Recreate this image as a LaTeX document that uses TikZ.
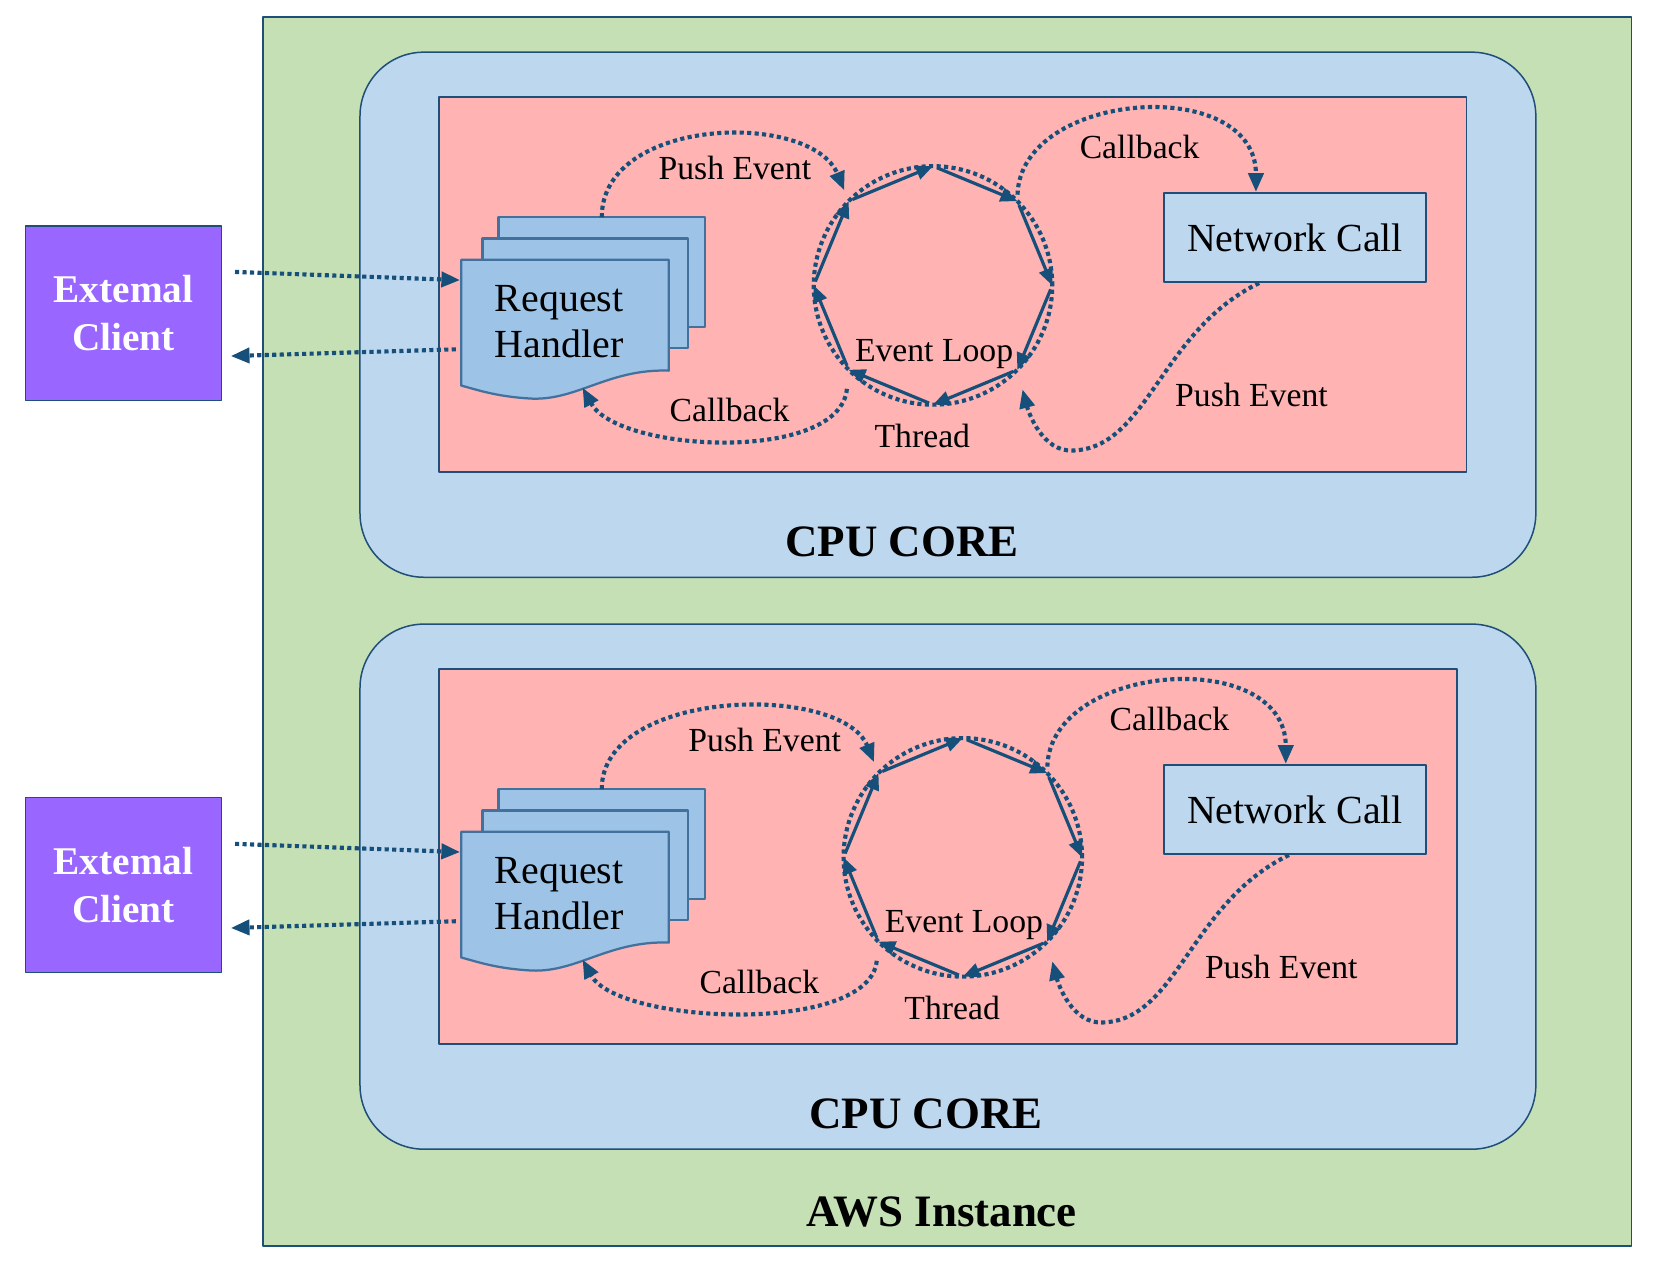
\documentclass[tikz,border=0pt]{standalone}
\usepackage{fontspec}
\setmainfont{Liberation Serif}
\usetikzlibrary{arrows.meta,calc}
\definecolor{awsgreen}{HTML}{C5E0B4}
\definecolor{coreblue}{HTML}{BDD7EE}
\definecolor{threadpink}{HTML}{FFB3B3}
\definecolor{clientviolet}{HTML}{9966FF}
\definecolor{pageblue}{HTML}{9DC3E6}
\definecolor{pageedge}{HTML}{41719C}
\definecolor{edgeblue}{HTML}{1F4E79}
\definecolor{flowblue}{HTML}{16507A}
\tikzset{
  boxline/.style={draw=edgeblue,line width=.8pt},
  pagebox/.style={draw=pageedge,line width=1.2pt,fill=pageblue},
  flowdots/.style={flowblue,line width=2.2pt,dash pattern=on 2.2pt off 1.8pt,-{Triangle[length=10pt,width=8pt]}},
  loopdots/.style={flowblue,line width=2.2pt,dash pattern=on 2.2pt off 1.8pt},
  loopstep/.style={flowblue,line width=1.7pt,-{Triangle[length=9pt,width=7.5pt]},shorten <=0.08cm},
  lbl/.style={font=\fontsize{18}{21}\selectfont},
  bigtxt/.style={font=\fontsize{21.3}{25}\selectfont,align=center},
  headtxt/.style={font=\fontsize{24}{28}\selectfont\bfseries},
}
\begin{document}
\begin{tikzpicture}[x=0.02cm,y=-0.02cm,line join=round]
\useasboundingbox (0,0) rectangle (1568,1202);
% aws instance
\draw[boxline,fill=awsgreen] (247,16) rectangle (1532,1170);
\node[headtxt] (aws) at (884,1138) {AWS Instance};
\foreach \k/\dy/\lx/\px in {1/0/0/1377,2/537/28/1368}{
\begin{scope}[shift={(0,\dy)}]
\draw[boxline,fill=coreblue,rounded corners=1.2cm] (338,49) rectangle (1442,542);
\node[headtxt] (cpu\k) at ({847+0.8*\lx},509) {CPU CORE};
\draw[boxline,fill=threadpink] (412,91) rectangle (\px,443);
% client
\node[boxline,fill=clientviolet,minimum width=3.68cm,minimum height=3.28cm,text=white,
  font=\fontsize{21}{25.5}\selectfont\bfseries,align=center] (ext\k) at (116,294) {Extemal\\Client};
% request handler pages
\draw[pagebox] (468,204) rectangle (662,307);
\draw[pagebox] (453,224) rectangle (646,327);
\draw[pagebox] (433,244) -- (628,244) -- (628,348)
  .. controls (570,346) and (540,378) .. (495,374)
  .. controls (465,372) and (448,366) .. (433,362) -- cycle;
\node[bigtxt] (rh\k) at (525,302) {Request\\Handler};
\coordinate (rhin\k) at (432,263);
\coordinate (rhout\k) at (428,328);
\coordinate (rhtop\k) at (565,204);
\coordinate (rhbot\k) at (547,364);
\draw[flowdots] ($(ext\k.north east)+(12,44)$) -- (rhin\k);
\draw[flowdots] (rhout\k) -- ($(ext\k.north east)+(8,123)$);
% network call
\node[draw=edgeblue,line width=.9pt,fill=coreblue,bigtxt,minimum width=4.92cm,minimum height=1.68cm] (nc\k) at (1216,223) {Network Call};
% event loop
\coordinate (el\k) at ({876+\lx},268);
\draw[loopdots] (el\k) circle[radius=2.24cm];
\foreach \a in {0,45,...,315} \coordinate (el\k-\a) at ($(el\k)+(\a:112)$);
\foreach \a [evaluate=\a as \b using {int(mod(\a+45,360))}] in {0,45,...,315}
  \draw[loopstep] (el\k-\a) -- (el\k-\b);
\node[lbl] (elname\k) at ({877+\lx},332) {Event Loop};
\node[lbl] (thr\k) at ({866+\lx},409) {Thread};
% events and callbacks
\draw[flowdots,shorten >=0.22cm] (rhtop\k) .. controls +(0,-95) and +(-35,-85) .. (el\k-225);
\node[lbl] (pushl\k) at ({690+\lx},158) {Push Event};
\draw[flowdots,shorten <=0.36cm] (el\k-135) .. controls +(-8,88) and +(33,61) .. (rhbot\k);
\node[lbl] (cbl\k) at ({685+\lx},385) {Callback};
\draw[flowdots,shorten <=0.12cm] (el\k-315) .. controls +(3,-104) and +(0,-111) .. ($(nc\k.north west)+({87+\lx},0)$);
\node[lbl] (cbr\k) at ({1070+\lx},138) {Callback};
\draw[flowdots,shorten >=0.38cm] ($(nc\k.south west)+({90+\lx},0)$)
  .. controls +(-93,45) and +(70,-3) .. ({1008+\lx},423)
  .. controls +(-30,2) and +(10,38) .. (el\k-45);
\node[lbl] (pushr\k) at ({1175+\lx},371) {Push Event};
\end{scope}}
\end{tikzpicture}
\end{document}
